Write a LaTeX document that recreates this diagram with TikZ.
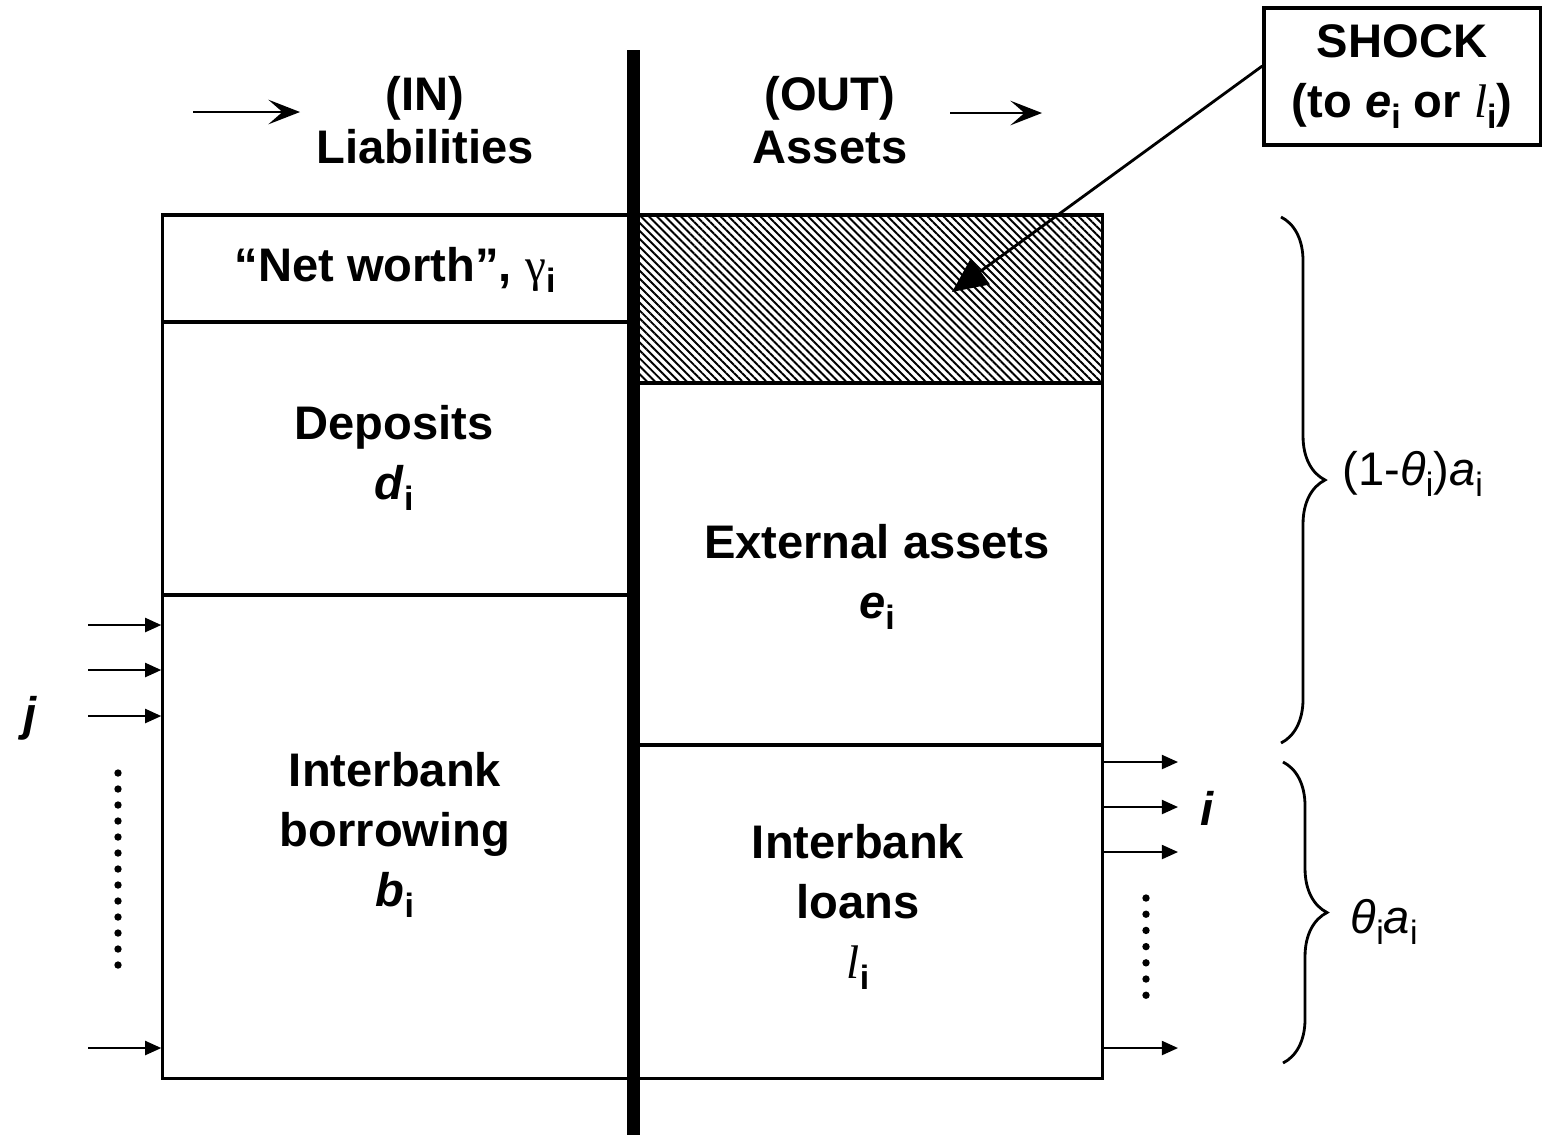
\documentclass[tikz,border=0pt]{standalone}
\usepackage{fontspec}
\setmainfont{Liberation Sans}
\newfontfamily\tnr{Liberation Serif}
\usetikzlibrary{arrows.meta}
\usetikzlibrary{patterns.meta}
\usetikzlibrary{decorations.pathreplacing}
\newcommand{\idx}[1]{\raisebox{-3.2pt}{\fontsize{9.6}{10}\selectfont #1}}

\begin{document}
\begin{tikzpicture}[x=0.01cm,y=-0.01cm,
    every node/.style={font=\fontsize{13.4}{17}\selectfont},
    cell/.style={draw,line width=0.9pt,inner sep=0pt},
    txt/.style={align=center,font=\fontsize{13.4}{17}\selectfont\bfseries},
    flow/.style={-{Triangle[length=4.6pt,width=4pt]},line width=0.6pt},
    head/.style={-{Stealth[length=9pt,width=7pt,inset=4pt]},line width=0.6pt},
    bank/.style={decorate,decoration={brace,amplitude=0.44cm},line width=0.8pt}]

    \useasboundingbox (0,0) rectangle (1543,1135);

    % liabilities side
    \node[cell,minimum width=4.65cm,minimum height=1.07cm] (nw)  at (395.5,268.5) {};
    \node[cell,minimum width=4.65cm,minimum height=2.73cm] (dep) at (395.5,458.5) {};
    \node[cell,minimum width=4.65cm,minimum height=4.83cm] (bor) at (395.5,836.5) {};
    \node[txt] (nw t)  at (395,270) {“Net worth”, {\tnr\mdseries γ}\idx{i}};
    \node[txt] (dep t) at (394,458) {Deposits\\\textit{d}\idx{i}};
    \node[txt] (bor t) at (395,835) {Interbank\\borrowing\\\textit{b}\idx{i}};

    % assets side
    \node[cell,minimum width=4.64cm,minimum height=1.68cm,
          pattern={Lines[angle=-45,distance=1.6pt,line width=0.55pt]}] (shk) at (870,299) {};
    \node[cell,minimum width=4.64cm,minimum height=3.62cm] (ext) at (870,564) {};
    \node[cell,minimum width=4.64cm,minimum height=3.33cm] (lns) at (870,911.5) {};
    \node[txt] (ext t) at (877,577) {External assets\\\textit{e}\idx{i}};
    \node[txt] (lns t) at (858,907) {Interbank\\loans\\{\tnr\mdseries\itshape l}\idx{i}};

    % headers
    \node[txt,font=\fontsize{13.4}{15}\selectfont\bfseries] (lia) at (425,120) {(IN)\\Liabilities};
    \node[txt,font=\fontsize{13.4}{15}\selectfont\bfseries] (ast) at (830,120) {(OUT)\\Assets};
    \coordinate (in0) at (193,112);
    \coordinate (in1) at (300,112);
    \coordinate (out0) at (950,113);
    \coordinate (out1) at (1042,113);
    \draw[head] (in0) -- (in1);
    \draw[head] (out0) -- (out1);

    % shock
    \node[cell,txt,minimum width=2.76cm,minimum height=1.37cm] (shock) at (1402,76.5)
        {SHOCK\\(to \textit{e}\idx{i} or {\tnr\mdseries\itshape l}\idx{i})};
    \coordinate (hit) at (952,292);
    \draw[-{Triangle[length=10pt,width=9pt]},line width=0.8pt] ([yshift=3pt]shock.west) -- (hit);

    % balance sheet divider
    \draw[line width=3.7pt] (633.5,50) -- (633.5,1135);

    % incoming links
    \foreach \y in {625,670,716,1048}{
        \coordinate (j\y) at (88,\y);
        \draw[flow] (j\y) -- (j\y -| bor.west);
    }
    \foreach \k in {0,...,12}
        \fill (118,773+16*\k) circle[radius=1.05pt];
    \node[txt,font=\fontsize{13.4}{17}\selectfont\bfseries\itshape] (jl) at (30,718) {j};

    % outgoing links
    \foreach \y in {762,807,852,1048}{
        \coordinate (i\y) at (1178,\y);
        \draw[flow] (i\y -| lns.east) -- (i\y);
    }
    \foreach \k in {0,...,6}
        \fill (1146,898+16.2*\k) circle[radius=1.05pt];
    \node[txt,font=\fontsize{13.4}{17}\selectfont\bfseries\itshape] (il) at (1207,808) {i};

    % braces
    \draw[bank] (1281,217) -- (1281,743);
    \draw[bank] (1283,762) -- (1283,1063);
    \node[anchor=west,inner sep=0pt] (ext lbl) at (1342,474) {(1-\textit{θ}\idx{i})\textit{a}\idx{i}};
    \node[anchor=west,inner sep=0pt] (ib lbl) at (1350,922) {\textit{θ}\idx{i}\textit{a}\idx{i}};
\end{tikzpicture}
\end{document}
